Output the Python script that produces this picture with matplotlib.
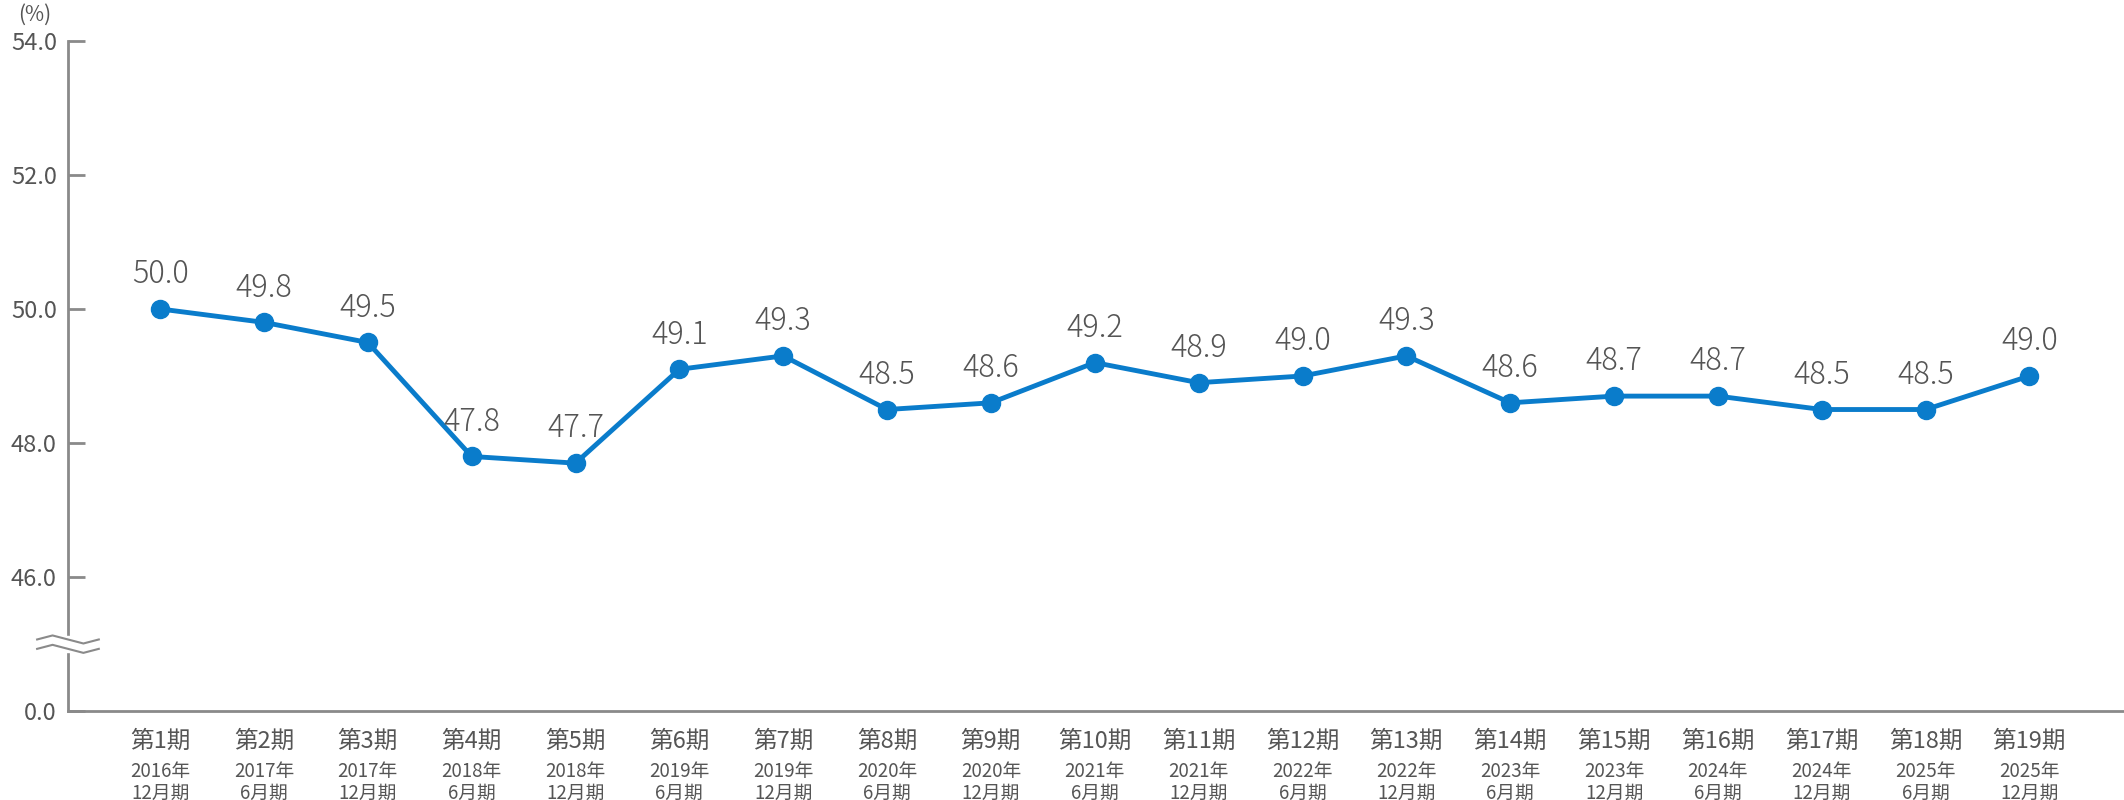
import matplotlib.pyplot as plt

plt.rcParams['font.family'] = ['Noto Sans CJK JP', 'DejaVu Sans']

periods = ['第%d期' % i for i in range(1, 20)]
dates = ['2016年\n12月期', '2017年\n6月期', '2017年\n12月期', '2018年\n6月期', '2018年\n12月期',
         '2019年\n6月期', '2019年\n12月期', '2020年\n6月期', '2020年\n12月期', '2021年\n6月期',
         '2021年\n12月期', '2022年\n6月期', '2022年\n12月期', '2023年\n6月期', '2023年\n12月期',
         '2024年\n6月期', '2024年\n12月期', '2025年\n6月期', '2025年\n12月期']
values = [50.0, 49.8, 49.5, 47.8, 47.7, 49.1, 49.3, 48.5, 48.6, 49.2,
          48.9, 49.0, 49.3, 48.6, 48.7, 48.7, 48.5, 48.5, 49.0]
ytick_pos = [44, 46, 48, 50, 52, 54]
ytick_lab = ['0.0', '46.0', '48.0', '50.0', '52.0', '54.0']

blue = '#0a7ccb'
gray = '#8a8a8a'
text = '#555555'

fig = plt.figure(figsize=(21.24, 8), dpi=100)
ax = fig.add_axes([0.032, 0.111, 0.968, 0.838])
x = list(range(len(values)))
ax.plot(x, values, color=blue, lw=3.5, marker='o', ms=13, zorder=3)
for xi, v in zip(x, values):
    ax.text(xi, v + 0.28, '%.1f' % v, ha='center', va='bottom', fontsize=22, color=text, fontweight='light')

ax.set_xlim(-0.887, 18.91)
ax.set_ylim(44, 54)
ax.set_yticks(ytick_pos)
ax.set_yticklabels(ytick_lab, fontsize=17, color=text)
ax.set_xticks(x)
ax.set_xticklabels([''] * len(x))
for xi, p, d in zip(x, periods, dates):
    ax.text(xi, -0.028, p, transform=ax.get_xaxis_transform(), ha='center', va='top', fontsize=17, color=text)
    ax.text(xi, -0.075, d, transform=ax.get_xaxis_transform(), ha='center', va='top', fontsize=13.5, color=text, linespacing=1.05)
ax.tick_params(axis='x', length=0)
ax.tick_params(axis='y', direction='in', length=12, width=2, color=gray, pad=8)
for s in ['top', 'right']:
    ax.spines[s].set_visible(False)
for s in ['left', 'bottom']:
    ax.spines[s].set_color(gray)
    ax.spines[s].set_linewidth(2)

# axis break mark
tr = ax.get_yaxis_transform()
ax.fill_between([-0.015, 0.015], 44.88, 45.12, color='white', transform=tr, zorder=4, clip_on=False)
for dy in (-0.07, 0.07):
    xs = [-0.015, -0.0075, 0, 0.0075, 0.015]
    ys = [45 + dy + o for o in (0, 0.06, 0, -0.06, 0)]
    ax.plot(xs, ys, color=gray, lw=1.5, transform=tr, zorder=5, clip_on=False)

fig.text(0.0085, 0.995, '(%)', fontsize=15, color=text, va='top')
fig.savefig('out.png')
